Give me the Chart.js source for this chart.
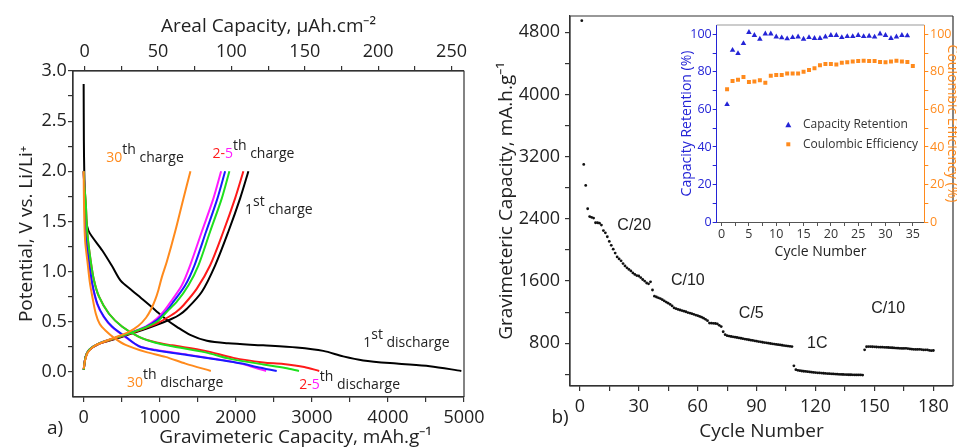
<!DOCTYPE html>
<html>
<head>
<meta charset="utf-8">
<script src="https://cdn.jsdelivr.net/npm/chart.js@4.4.0/dist/chart.umd.min.js"></script>
<style>
  html, body { margin: 0; padding: 0; background: #fff; overflow: hidden; }
  #page { position: relative; width: 957px; height: 447px; overflow: hidden; background: #fff; }
  canvas { position: absolute; }
  #chartA { left: 0; top: 0; }
  #chartB { left: 480px; top: 0; }
  #inset { left: 660px; top: 0; }
  .tag { position: absolute; font: 19px "Open Sans", sans-serif; color: #222; transform: translate(-50%, -50%); }
</style>
</head>
<body>
<div id="page">
  <canvas id="chartA" width="500" height="447"></canvas>
  <canvas id="chartB" width="477" height="447"></canvas>
  <canvas id="inset" width="310" height="265"></canvas>
  <div class="tag" style="left:55px; top:427px;">a)</div>
  <div class="tag" style="left:560px; top:416px;">b)</div>
</div>
<script>
// ---- panel a: [capacity mAh/g, potential V] ----
const discharge1 = [[0,2.87],[3,2.3],[8,2.0],[18,1.71],[35,1.5],[62,1.41],[114,1.345],[245,1.21],[377,1.05],[486,0.91],[639,0.81],[750,0.74],[860,0.67],[963,0.6],[1090,0.52],[1225,0.45],[1400,0.37],[1620,0.31],[1900,0.285],[2360,0.265],[2800,0.243],[3150,0.21],[3412,0.155],[3675,0.115],[4113,0.083],[4550,0.057],[4965,0.01]];
const charge1 = [[0,0.02],[26,0.15],[70,0.215],[202,0.28],[420,0.33],[639,0.385],[820,0.43],[980,0.475],[1160,0.53],[1260,0.57],[1357,0.63],[1554,0.8],[1729,1.063],[1903,1.4],[2057,1.73],[2166,2.0]];
const discharge2 = [[0,2.0],[10,1.85],[26,1.71],[49,1.38],[92,1.11],[136,0.914],[202,0.75],[333,0.58],[508,0.45],[727,0.35],[945,0.295],[1164,0.265],[1600,0.21],[1969,0.14],[2362,0.095],[2625,0.08],[2900,0.05],[3097,0.01]];
const charge2 = [[0,0.02],[26,0.15],[70,0.215],[202,0.28],[420,0.335],[639,0.39],[820,0.44],[980,0.49],[1120,0.55],[1220,0.6],[1312,0.665],[1488,0.83],[1663,1.063],[1837,1.4],[1991,1.73],[2100,2.0]];
const discharge3 = [[0,2.0],[10,1.85],[26,1.71],[49,1.38],[92,1.11],[136,0.914],[202,0.75],[333,0.58],[508,0.45],[727,0.35],[945,0.29],[1164,0.256],[1601,0.195],[1925,0.13],[2362,0.075],[2650,0.04],[2831,0.01]];
const charge3 = [[0,0.02],[26,0.15],[70,0.22],[202,0.285],[420,0.34],[639,0.395],[820,0.445],[980,0.51],[1094,0.6],[1225,0.7],[1378,0.864],[1509,1.063],[1663,1.4],[1816,1.73],[1916,2.0]];
const discharge4 = [[0,2.0],[8,1.85],[20,1.6],[40,1.3],[70,1.11],[114,0.88],[180,0.68],[267,0.55],[377,0.45],[551,0.35],[727,0.256],[945,0.216],[1383,0.166],[1820,0.117],[2083,0.083],[2275,0.05],[2538,0.01]];
const charge4 = [[0,0.02],[26,0.15],[70,0.22],[202,0.285],[420,0.34],[639,0.395],[820,0.45],[970,0.52],[1080,0.6],[1181,0.7],[1335,0.864],[1457,1.063],[1610,1.4],[1759,1.73],[1860,2.0]];
const discharge5 = [[0,2.0],[8,1.85],[18,1.6],[38,1.3],[66,1.11],[110,0.88],[175,0.68],[262,0.55],[370,0.45],[545,0.35],[720,0.26],[940,0.22],[1380,0.17],[1810,0.12],[2083,0.08],[2275,0.035],[2398,0.01]];
const charge5 = [[0,0.02],[26,0.15],[70,0.22],[202,0.285],[420,0.34],[639,0.4],[820,0.455],[960,0.53],[1060,0.61],[1160,0.715],[1291,0.864],[1400,1.063],[1554,1.4],[1706,1.73],[1807,2.0]];
const discharge30 = [[0,2.0],[6,1.6],[20,1.3],[50,1.1],[80,0.9],[114,0.75],[160,0.58],[210,0.48],[290,0.41],[400,0.34],[551,0.27],[814,0.2],[1076,0.15],[1339,0.083],[1672,0.01]];
const charge30 = [[0,0.03],[20,0.12],[60,0.2],[158,0.266],[377,0.333],[595,0.4],[720,0.46],[820,0.54],[890,0.63],[941,0.72],[984,0.82],[1030,0.95],[1094,1.1],[1203,1.4],[1312,1.73],[1404,2.0]];

const gravTicks = [0,500,1000,1500,2000,2500,3000,3500,4000,4500,5000];
const arealTicks = [0,25,50,75,100,125,150,175,200,225,250];
const voltTicks = [0,0.25,0.5,0.75,1.0,1.25,1.5,1.75,2.0,2.25,2.5,2.75,3.0];

// ---- panel b: gravimetric capacity per cycle (cycles 1..180) ----
const cycleCapacity = [
  4950, 3100, 2830, 2530, 2430, 2420, 2410, 2350, 2350, 2345,
  2320, 2250, 2220, 2170, 2110, 2060, 2010, 1960, 1910, 1885,
  1860, 1825, 1795, 1770, 1750, 1730, 1705, 1685, 1670, 1665,
  1645, 1620, 1600, 1575, 1565, 1590, 1485, 1405, 1395, 1385,
  1375, 1360, 1345, 1330, 1315, 1300, 1280, 1255, 1245, 1235,
  1228, 1220, 1212, 1205, 1195, 1188, 1180, 1172, 1163, 1155,
  1145, 1135, 1122, 1108, 1090, 1060, 1058, 1056, 1054, 1050,
  1030, 1015, 948, 910, 898, 892, 887, 882, 878, 874,
  869, 864, 859, 854, 849, 845, 840, 836, 831, 827,
  822, 818, 813, 809, 805, 801, 797, 793, 789, 785,
  781, 778, 774, 770, 767, 763, 760, 757, 510, 460,
  452, 447, 443, 440, 437, 434, 431, 428, 425, 423,
  420, 418, 416, 414, 412, 410, 408, 406, 405, 403,
  402, 400, 399, 398, 397, 396, 395, 395, 394, 393,
  393, 392, 392, 391, 715, 755, 757, 756, 755, 754,
  752, 751, 750, 749, 748, 746, 745, 743, 742, 740,
  738, 737, 735, 734, 733, 735, 731, 727, 724, 722,
  721, 721, 722, 718, 714, 716, 714, 708, 705, 707
];
const rateLabels = ['C/20', 'C/10', 'C/5', '1C', 'C/10'];
const cycleTicks = [0,15,30,45,60,75,90,105,120,135,150,165,180];
const capTicks = [400,800,1200,1600,2000,2400,2800,3200,3600,4000,4400,4800];

// ---- inset ----
const retention = [62.7, 91.6, 89.9, 95.2, 101.1, 99.5, 97.5, 100.3, 100.3, 98.7, 98.2, 97.7, 98.4, 98.7, 97.5, 98.4, 97.9, 97.9, 98.7, 99.5, 99.5, 98.4, 98.9, 98.9, 99.5, 98.9, 99.1, 98.6, 100.3, 99.5, 97.9, 98.7, 99.5, 99.3];
const efficiency = [70.7, 75.1, 75.8, 77.3, 74.6, 74.9, 75.5, 74.2, 77.9, 78.3, 78.3, 79.2, 79.2, 79.2, 80.1, 81.0, 81.9, 83.6, 84.2, 84.2, 84.0, 84.9, 85.1, 85.6, 85.8, 86.0, 85.8, 85.8, 85.3, 85.1, 85.6, 86.0, 85.6, 85.3, 83.1];
const insetCycleTicks = [0,2.5,5,7.5,10,12.5,15,17.5,20,22.5,25,27.5,30,32.5,35];
const percentTicks = [0,10,20,30,40,50,60,70,80,90,100];

const FONT = '"Open Sans", sans-serif';
const BLUE = '#2424d6';
const ORANGE = '#ff8a1c';

// box around the plot area
const frame = {
  id: 'frame',
  afterDraw(chart, args, opts) {
    const { ctx, chartArea: a } = chart;
    const sides = opts.sides || ['top', 'right', 'bottom', 'left'];
    ctx.save();
    ctx.strokeStyle = opts.color || '#333';
    ctx.lineWidth = opts.width || 1.2;
    ctx.beginPath();
    if (sides.includes('top')) { ctx.moveTo(a.left, a.top); ctx.lineTo(a.right, a.top); }
    if (sides.includes('right')) { ctx.moveTo(a.right, a.top); ctx.lineTo(a.right, a.bottom); }
    if (sides.includes('bottom')) { ctx.moveTo(a.left, a.bottom); ctx.lineTo(a.right, a.bottom); }
    if (sides.includes('left')) { ctx.moveTo(a.left, a.top); ctx.lineTo(a.left, a.bottom); }
    ctx.stroke();
    ctx.restore();
  }
};

// text notes placed in data coordinates, with optional superscript parts
const notes = {
  id: 'notes',
  afterDatasetsDraw(chart, args, opts) {
    if (!opts.items) return;
    const { ctx } = chart;
    const xs = chart.scales.x, ys = chart.scales.y;
    ctx.save();
    ctx.textBaseline = 'middle';
    ctx.textAlign = 'left';
    opts.items.forEach(item => {
      const y = ys.getPixelForValue(item.at[1]);
      let total = 0;
      item.parts.forEach(([text, , sup]) => {
        ctx.font = (sup ? opts.supSize : opts.size) + 'px ' + opts.family;
        total += ctx.measureText(text).width;
      });
      let x = xs.getPixelForValue(item.at[0]);
      if (opts.align === 'center') x -= total / 2;
      item.parts.forEach(([text, color, sup]) => {
        ctx.font = (sup ? opts.supSize : opts.size) + 'px ' + opts.family;
        ctx.fillStyle = color;
        ctx.fillText(text, x, sup ? y - opts.supRaise : y);
        x += ctx.measureText(text).width;
      });
    });
    ctx.restore();
  }
};

// small legend drawn inside the inset plot
const insetLegend = {
  id: 'insetLegend',
  afterDraw(chart, args, opts) {
    if (!opts.items) return;
    const { ctx, chartArea: a } = chart;
    ctx.save();
    ctx.font = opts.size + 'px ' + FONT;
    ctx.textBaseline = 'middle';
    opts.items.forEach((it, i) => {
      const cx = a.left + opts.dx, cy = a.top + opts.dy + i * opts.gap;
      const ds = chart.data.datasets[i];
      ctx.fillStyle = ds.backgroundColor;
      ctx.beginPath();
      if (ds.pointStyle === 'triangle') {
        ctx.moveTo(cx, cy - 3.2); ctx.lineTo(cx + 3, cy + 2.2); ctx.lineTo(cx - 3, cy + 2.2);
      } else {
        ctx.rect(cx - 2, cy - 2, 4, 4);
      }
      ctx.fill();
      ctx.fillStyle = '#333';
      ctx.fillText(ds.label, cx + opts.textGap, cy);
    });
    ctx.restore();
  }
};

function fixedTicks(values) {
  return scale => { scale.ticks = values.map(v => ({ value: v })); };
}

const tickFont = { family: FONT, size: 18 };
const titleFont = { family: FONT, size: 19 };
const tickGrid = { display: true, drawOnChartArea: false, drawTicks: true, tickLength: 5, color: '#333', lineWidth: 1.2 };
const axisBorder = { display: true, color: '#333', width: 1.2 };

function curve(points, color) {
  return {
    data: points.map(([x, y]) => ({ x, y })),
    borderColor: color,
    backgroundColor: color,
    borderWidth: 2,
    showLine: true,
    pointRadius: 0,
    tension: 0.3,
    xAxisID: 'x',
    yAxisID: 'y'
  };
}

new Chart(document.getElementById('chartA'), {
  type: 'scatter',
  data: {
    datasets: [
      curve(discharge30, ORANGE), curve(charge30, ORANGE),
      curve(discharge3, '#1ee01e'), curve(charge3, '#1ee01e'),
      curve(discharge2, '#ff1a1a'), curve(charge2, '#ff1a1a'),
      curve(discharge4, '#1a1aff'), curve(charge4, '#1a1aff'),
      curve(discharge5, '#ff1aff'), curve(charge5, '#ff1aff'),
      curve(discharge1, '#000'), curve(charge1, '#000')
    ]
  },
  options: {
    responsive: false,
    animation: false,
    layout: { padding: { left: 0, right: 36, top: 0, bottom: 0 } },
    plugins: {
      legend: { display: false },
      tooltip: { enabled: false },
      frame: { color: '#333', width: 1.2 },
      notes: {
        family: FONT, size: 14, supSize: 14, supRaise: 8, align: 'left',
        items: [
          { at: [298, 2.13], parts: [['30', ORANGE], ['th', '#222', true], [' charge', '#222']] },
          { at: [1693, 2.17], parts: [['2-', '#ff1a1a'], ['5', '#ff1aff'], ['th', '#222', true], [' charge', '#222']] },
          { at: [2122, 1.61], parts: [['1', '#222'], ['st', '#222', true], [' charge', '#222']] },
          { at: [3675, 0.29], parts: [['1', '#222'], ['st', '#222', true], [' discharge', '#222']] },
          { at: [570, -0.11], parts: [['30', ORANGE], ['th', '#222', true], [' discharge', '#222']] },
          { at: [2835, -0.13], parts: [['2-', '#ff1a1a'], ['5', '#ff1aff'], ['th', '#222', true], [' discharge', '#222']] }
        ]
      }
    },
    scales: {
      x: {
        type: 'linear', position: 'bottom', min: -140, max: 5000,
        afterBuildTicks: fixedTicks(gravTicks),
        afterFit: s => { s.height = 50; },
        ticks: { callback: v => (v % 1000 === 0 ? v : ''), font: tickFont, color: '#222', padding: 5.5, maxRotation: 0, autoSkip: false },
        grid: tickGrid, border: axisBorder,
        title: { display: true, text: '           Gravimeteric Capacity, mAh.g⁻¹', font: titleFont, color: '#222', padding: { top: 0, bottom: -2.4 } }
      },
      x2: {
        type: 'linear', position: 'top', min: -8, max: 258.5,
        afterBuildTicks: fixedTicks(arealTicks),
        afterFit: s => { s.height = 71; },
        ticks: { callback: v => (v % 50 === 0 ? v : ''), font: tickFont, color: '#222', padding: 3.5, maxRotation: 0, autoSkip: false },
        grid: tickGrid, border: axisBorder,
        title: { display: true, text: 'Areal Capacity, μAh.cm⁻²', font: titleFont, color: '#222', padding: { top: 15.3, bottom: 0 } }
      },
      y: {
        type: 'linear', position: 'left', min: -0.25, max: 3.0,
        afterBuildTicks: fixedTicks(voltTicks),
        afterFit: s => { s.width = 73; },
        ticks: { callback: v => (Math.round(v * 4) % 2 === 0 ? v.toFixed(1) : ''), font: tickFont, color: '#222', padding: 1.3, autoSkip: false },
        grid: tickGrid, border: axisBorder,
        title: { display: true, text: 'Potential, V vs. Li/Li⁺', font: titleFont, color: '#222', padding: { top: 15.6, bottom: 0 } }
      }
    }
  },
  plugins: [frame, notes]
});

new Chart(document.getElementById('chartB'), {
  type: 'scatter',
  data: {
    datasets: [{
      data: cycleCapacity.map((c, i) => ({ x: i + 1, y: c })),
      backgroundColor: '#111',
      borderColor: '#111',
      borderWidth: 0,
      pointRadius: 1.4
    }]
  },
  options: {
    responsive: false,
    animation: false,
    layout: { padding: { left: 0, right: 1, top: 16, bottom: 0 } },
    plugins: {
      legend: { display: false },
      tooltip: { enabled: false },
      frame: { color: '#333', width: 1.2 },
      notes: {
        family: '"Liberation Sans", Arial, sans-serif', size: 16, supSize: 12, supRaise: 6, align: 'center',
        items: [
          { at: [27.7, 2312], parts: [[rateLabels[0], '#222']] },
          { at: [55, 1600], parts: [[rateLabels[1], '#222']] },
          { at: [87.3, 1186], parts: [[rateLabels[2], '#222']] },
          { at: [120.9, 800], parts: [[rateLabels[3], '#222']] },
          { at: [157, 1250], parts: [[rateLabels[4], '#222']] }
        ]
      }
    },
    scales: {
      x: {
        type: 'linear', position: 'bottom', min: -5, max: 190,
        afterBuildTicks: fixedTicks(cycleTicks),
        afterFit: s => { s.height = 61; },
        ticks: { callback: v => (v % 30 === 0 ? v : ''), font: tickFont, color: '#222', padding: 5.5, maxRotation: 0, autoSkip: false },
        grid: tickGrid, border: axisBorder,
        title: { display: true, text: 'Cycle Number', font: titleFont, color: '#222', padding: { top: 0, bottom: 3.9 } }
      },
      y: {
        type: 'linear', position: 'left', min: 250, max: 5010,
        afterBuildTicks: fixedTicks(capTicks),
        afterFit: s => { s.width = 90; },
        ticks: { callback: v => (v % 800 === 0 ? v : ''), font: tickFont, color: '#222', padding: 5, autoSkip: false },
        grid: tickGrid, border: axisBorder,
        title: { display: true, text: 'Gravimeteric Capacity, mA.h.g⁻¹', font: titleFont, color: '#222', padding: { top: 15, bottom: 0 } }
      }
    }
  },
  plugins: [frame, notes]
});

const insetTickFont = { family: FONT, size: 12.5 };
const insetTitleFont = { family: FONT, size: 14 };

new Chart(document.getElementById('inset'), {
  type: 'scatter',
  data: {
    datasets: [
      {
        label: 'Capacity Retention',
        data: retention.map((v, i) => ({ x: i + 1, y: v })),
        pointStyle: 'triangle', pointRadius: 3.2,
        backgroundColor: BLUE, borderColor: BLUE, borderWidth: 0,
        yAxisID: 'y'
      },
      {
        label: 'Coulombic Efficiency',
        data: efficiency.map((v, i) => ({ x: i + 1, y: v })),
        pointStyle: 'rect', pointRadius: 2.8,
        backgroundColor: ORANGE, borderColor: ORANGE, borderWidth: 0,
        yAxisID: 'y2'
      }
    ]
  },
  options: {
    responsive: false,
    animation: false,
    layout: { padding: { left: 0, right: 0, top: 25, bottom: 0 } },
    plugins: {
      legend: { display: false },
      tooltip: { enabled: false },
      frame: { color: '#999', width: 1, sides: ['top'] },
      insetLegend: { size: 12, dx: 71.6, dy: 100, gap: 19.3, textGap: 14.7, items: [0, 1] }
    },
    scales: {
      x: {
        type: 'linear', position: 'bottom', min: -0.9, max: 37.1,
        afterBuildTicks: fixedTicks(insetCycleTicks),
        afterFit: s => { s.height = 43; },
        ticks: { callback: v => (v % 5 === 0 ? v : ''), font: insetTickFont, color: '#333', padding: 1.2, maxRotation: 0, autoSkip: false },
        grid: { display: true, drawOnChartArea: false, drawTicks: true, tickLength: 4, color: '#555' },
        border: { display: true, color: '#555', width: 1 },
        title: { display: true, text: 'Cycle Number', font: insetTitleFont, color: '#222', padding: { top: 0, bottom: 4.9 } }
      },
      y: {
        type: 'linear', position: 'left', min: 0, max: 105,
        afterBuildTicks: fixedTicks(percentTicks),
        afterFit: s => { s.width = 56.7; },
        ticks: { callback: v => (v % 20 === 0 ? v : ''), font: insetTickFont, color: BLUE, padding: 1, autoSkip: false },
        grid: { display: true, drawOnChartArea: false, drawTicks: true, tickLength: 4, color: BLUE },
        border: { display: true, color: BLUE, width: 1 },
        title: { display: true, text: 'Capacity Retention (%)', font: insetTitleFont, color: BLUE, padding: { top: 18.3, bottom: 0 } }
      },
      y2: {
        type: 'linear', position: 'right', min: 0, max: 105,
        afterBuildTicks: fixedTicks(percentTicks),
        afterFit: s => { s.width = 45.7; },
        ticks: { callback: v => (v % 20 === 0 ? v : ''), font: insetTickFont, color: ORANGE, padding: 1.7, autoSkip: false },
        grid: { display: true, drawOnChartArea: false, drawTicks: true, tickLength: 4, color: ORANGE },
        border: { display: true, color: ORANGE, width: 1 },
        title: { display: true, text: 'Coulombic Efficiency (%)', font: insetTitleFont, color: ORANGE, padding: { top: 9.9, bottom: 0 } }
      }
    }
  },
  plugins: [frame, insetLegend]
});
</script>
</body>
</html>
